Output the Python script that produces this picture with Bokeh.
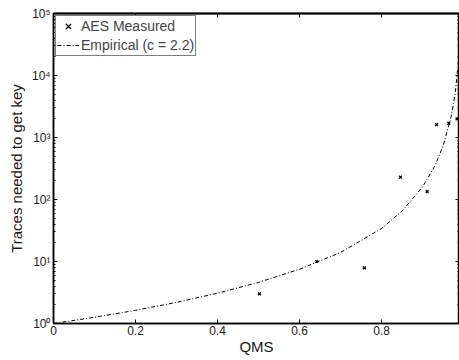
from bokeh.plotting import figure
from bokeh.models import Range1d, LogAxis, LinearAxis, CustomJSTickFormatter, FixedTicker, Legend, LegendItem
from bokeh.embed import file_html
from bokeh.resources import INLINE

# Measured points
meas_x = [0.502, 0.642, 0.758, 0.846, 0.911, 0.934, 0.964, 0.984]
meas_y = [3.0, 10.0, 7.9, 229, 134, 1620, 1700, 2000]

# Empirical curve
emp_x = [0.0, 0.1, 0.2, 0.3, 0.4, 0.5, 0.6, 0.7, 0.8, 0.85, 0.9, 0.93, 0.95, 0.97, 0.98, 0.99]
emp_y = [1.0, 1.26, 1.63, 2.19, 3.08, 4.6, 7.5, 14, 34, 65, 160, 350, 730, 2200, 5500, 25000]

x_ticks = [0, 0.2, 0.4, 0.6, 0.8]
x_tick_labels = ["0", "0.2", "0.4", "0.6", "0.8"]
y_ticks = [1, 10, 100, 1000, 10000, 100000]
y_tick_labels = ["10\u2070", "10\u00b9", "10\u00b2", "10\u00b3", "10\u2074", "10\u2075"]

FONT = "Liberation Sans"
minor = [k * 10**e for e in range(0, 5) for k in range(2, 10)]

p = figure(width=459, height=360, y_axis_type="log", output_backend="svg",
           toolbar_location=None, x_range=Range1d(0, 0.99), y_range=Range1d(1, 1e5),
           min_border_left=53, min_border_right=0, min_border_top=13, min_border_bottom=37)
p.grid.visible = False
p.outline_line_color = "black"
p.outline_line_width = 1.5
p.background_fill_color = "white"

line = p.line(emp_x, emp_y, line_color="black", line_width=1, line_dash="4 2 1 2")
pts = p.scatter(meas_x, meas_y, marker="x", size=4, line_color="black", line_width=1.3)

xa = p.xaxis[0]
xa.ticker = FixedTicker(ticks=x_ticks)
xa.formatter = CustomJSTickFormatter(args=dict(m=x_tick_labels, t=x_ticks),
    code="for (let i=0;i<t.length;i++){ if (Math.abs(t[i]-tick)<1e-9) return m[i]; } return '';")
ya = p.yaxis[0]
ya.ticker = FixedTicker(ticks=y_ticks, minor_ticks=minor)
ya.formatter = CustomJSTickFormatter(args=dict(m=y_tick_labels, t=y_ticks),
    code="for (let i=0;i<t.length;i++){ if (Math.abs(t[i]-tick)/t[i]<1e-6) return m[i]; } return '';")

for ax in (xa, ya):
    ax.major_tick_in = 4
    ax.major_tick_out = 0
    ax.minor_tick_in = 2
    ax.minor_tick_out = 0
    ax.axis_line_width = 1.5
    ax.major_label_text_font = FONT
    ax.major_label_text_font_size = "12px"
    ax.major_label_text_color = "#1a1a1a"
    ax.axis_label_text_font = FONT
    ax.axis_label_text_font_size = "15px"
    ax.axis_label_text_font_style = "normal"
    ax.axis_label_text_color = "#1a1a1a"
xa.minor_tick_in = 0
xa.major_label_standoff = 2
ya.major_label_standoff = 3
xa.axis_label = "QMS"
xa.axis_label_standoff = 0
ya.axis_label = "Traces needed to get key"
ya.axis_label_standoff = 4

blank = CustomJSTickFormatter(code="return '';")
top = LinearAxis(ticker=FixedTicker(ticks=x_ticks), formatter=blank, major_tick_in=4, major_tick_out=0,
                 minor_tick_in=0, minor_tick_out=0, axis_line_width=2, major_label_standoff=0)
right = LogAxis(ticker=FixedTicker(ticks=y_ticks, minor_ticks=minor),
                formatter=blank, major_tick_in=4, major_tick_out=0, minor_tick_in=2, minor_tick_out=0,
                axis_line_width=1.5, major_label_standoff=0)
p.add_layout(top, "above")
p.add_layout(right, "right")

legend = Legend(items=[LegendItem(label="AES Measured", renderers=[pts]),
                       LegendItem(label="Empirical (c = 2.2)", renderers=[line])],
                location="top_left", border_line_color="black", border_line_width=1.5,
                label_text_font=FONT, label_text_font_size="14px", label_height=18,
                glyph_width=22, glyph_height=18, spacing=1, padding=1, margin=2,
                label_standoff=2, background_fill_alpha=1)
p.add_layout(legend)

open("out.html", "w").write(file_html(p, INLINE))
